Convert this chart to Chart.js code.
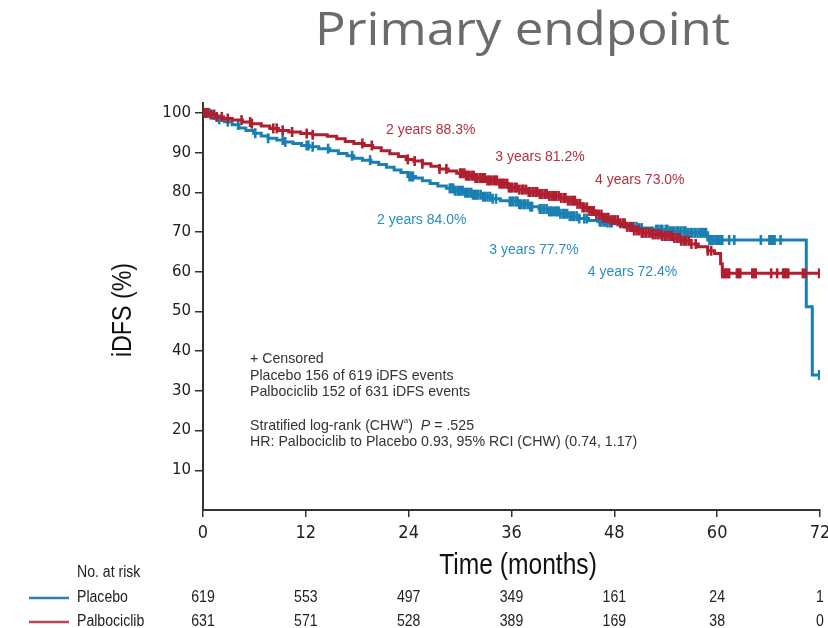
<!DOCTYPE html>
<html>
<head>
<meta charset="utf-8">
<script src="https://cdn.jsdelivr.net/npm/chart.js@4.4.0/dist/chart.umd.min.js"></script>
<style>
  body { margin: 0; background: #fff; }
  canvas { display: block; }
</style>
</head>
<body>
<canvas id="mycanvas" width="828" height="628"></canvas>
<script>
// Kaplan-Meier steps: time in months, iDFS in %
var placeboTime = [0, 0.8, 1.6, 2.5, 3.4, 4.2, 5.0, 5.9, 6.8, 7.6, 8.6, 9.4, 10.5, 11.5, 12.4, 13.5, 14.8, 15.8, 16.8, 17.6,
	18.6, 19.6, 20.5, 21.4, 22.3, 23.1, 23.9, 24.8, 25.6, 26.5, 27.4, 28.4, 29.4, 30.4, 31.4, 32.5, 33.6, 34.7, 35.8, 36.9,
	38.0, 39.2, 40.4, 41.6, 42.8, 43.9, 45.0, 46.1, 47.2, 48.4, 49.6, 50.8, 52.5, 54.5, 56.5, 58.9, 70.4, 71.1, 71.9];
var placeboSurv = [100, 99.5, 98.4, 97.8, 97.0, 96.2, 95.6, 94.9, 94.2, 93.6, 93.2, 92.7, 92.3, 91.8, 91.5, 91.0, 90.5, 89.8, 89.2, 88.6,
	88.1, 87.6, 87.0, 86.3, 85.6, 85.0, 84.0, 83.6, 82.9, 82.2, 81.6, 81.0, 80.4, 79.9, 79.4, 78.9, 78.4, 77.9, 77.7, 77.0,
	76.4, 75.8, 75.2, 74.6, 74.0, 73.4, 72.9, 72.6, 72.4, 71.8, 71.3, 71.0, 70.6, 70.2, 69.8, 68.0, 51.2, 34.0, 34.0];

var palboTime = [0, 0.6, 1.4, 2.4, 3.4, 4.6, 5.6, 6.8, 7.8, 8.8, 10.0, 11.4, 12.8, 14.5, 15.6, 16.6, 17.6, 18.8, 19.8, 20.8,
	21.8, 22.8, 23.7, 24.6, 25.6, 26.6, 27.6, 28.6, 29.6, 30.6, 31.8, 33.0, 34.4, 35.6, 36.8, 38.0, 39.2, 40.4, 41.6, 42.6,
	43.5, 44.3, 45.1, 45.9, 46.7, 47.6, 48.5, 49.3, 50.2, 51.2, 52.4, 53.6, 54.8, 55.8, 56.8, 57.8, 58.9, 59.7, 60.4, 60.6, 72];
var palboSurv = [100, 99.6, 99.0, 98.6, 98.2, 97.7, 97.3, 96.7, 96.1, 95.6, 95.2, 94.8, 94.5, 94.1, 93.5, 92.8, 92.3, 91.8, 91.2, 90.5,
	89.7, 89.0, 88.3, 87.9, 87.2, 86.6, 85.9, 85.4, 84.8, 84.2, 83.6, 83.0, 82.2, 81.2, 80.7, 80.1, 79.6, 79.1, 78.6, 77.9,
	77.1, 76.2, 75.3, 74.4, 73.6, 73.0, 72.2, 71.3, 70.4, 69.8, 69.4, 69.0, 68.5, 67.8, 67.0, 66.3, 65.3, 64.6, 62.0, 59.6, 59.6];

// censored observations (months)
var placeboCensor = [0.3, 0.7, 1.2, 1.9, 2.9, 4.1, 6.1, 7.6, 9.3, 9.6, 12.1, 12.3, 12.8, 14.6, 17.4, 19.5, 24.1, 24.3, 24.5,
	28.8, 29.0, 29.2, 29.4, 29.7, 29.9, 30.1, 30.3, 30.6, 30.8, 31.0, 31.3, 31.5, 31.7, 31.9, 32.1, 32.4, 32.7, 32.9, 33.2,
	33.5, 33.8, 34.2, 35.8, 36.0, 36.2, 36.5, 36.7, 36.9, 37.1, 37.4, 37.6, 37.9, 38.2, 38.4, 39.3, 39.5, 39.8, 40.1, 40.4,
	40.6, 40.8, 41.1, 41.3, 41.5, 41.7, 42.0, 42.2, 42.5, 42.8, 43.1, 43.3, 43.6, 43.9, 44.5, 44.8, 46.3, 46.5, 46.8, 47.0,
	47.2, 47.5, 47.7, 50.0, 50.3, 50.6, 50.9, 51.2, 52.9, 53.1, 53.4, 53.6, 54.0, 54.2, 54.5, 54.7, 55.0, 55.3, 55.5, 55.8,
	56.1, 56.3, 56.6, 56.9, 57.1, 57.4, 57.7, 58.0, 58.2, 58.5, 58.7, 59.1, 59.3, 59.5, 59.8, 60.0, 60.2, 60.4, 60.6, 61.4,
	62.0, 65.1, 66.1, 66.3, 66.5, 66.7, 67.4, 71.9];
var palboCensor = [0.2, 0.5, 0.9, 1.3, 1.6, 2.2, 2.9, 4.5, 5.5, 5.7, 8.2, 8.6, 9.3, 10.4, 12.1, 12.8, 18.6, 19.7, 23.9, 24.7,
	25.6, 27.6, 28.4, 30.0, 30.2, 30.5, 30.7, 30.9, 31.1, 31.4, 31.6, 31.8, 32.0, 32.3, 32.5, 32.7, 32.9, 33.2, 33.4, 33.6,
	33.9, 34.1, 34.3, 34.6, 34.8, 35.0, 35.2, 35.5, 35.7, 35.9, 36.1, 36.4, 36.6, 36.9, 37.2, 37.4, 37.7, 38.0, 38.2, 38.5,
	38.8, 39.0, 39.3, 39.6, 39.9, 40.1, 40.4, 40.7, 41.0, 41.2, 41.5, 41.8, 42.1, 42.3, 42.6, 42.9, 43.2, 43.4, 43.7, 44.0,
	44.3, 44.5, 44.8, 45.1, 45.4, 45.6, 45.9, 46.2, 46.5, 46.7, 47.0, 47.3, 47.6, 47.9, 48.1, 48.4, 48.7, 49.0, 49.2, 49.5,
	49.8, 50.1, 50.3, 50.6, 50.9, 51.2, 51.4, 51.7, 52.0, 52.3, 52.5, 52.8, 53.1, 53.4, 53.6, 53.9, 54.2, 54.5, 54.7, 55.0,
	55.3, 55.6, 55.8, 56.1, 56.4, 56.7, 57.0, 57.5, 58.9, 59.3, 60.6, 60.8, 61.0, 61.2, 61.4, 62.3, 62.5, 62.7, 64.1, 64.3,
	64.5, 66.3, 67.0, 67.7, 67.9, 68.1, 68.3, 70.0, 70.3, 71.9];

var xTicks = [0, 12, 24, 36, 48, 60, 72];
var yTicks = [10, 20, 30, 40, 50, 60, 70, 80, 90, 100];
var placeboRisk = [619, 553, 497, 349, 161, 24, 1];
var palboRisk = [631, 571, 528, 389, 169, 38, 0];

var landmarkYears = [2, 3, 4];
var placeboLandmark = [84.0, 77.7, 72.4];
var palboLandmark = [88.3, 81.2, 73.0];

var blue = '#1a80b2';
var red = '#b01f30';
var sans = "'Liberation Sans', Arial, sans-serif";

function survAt(times, surv, t) {
	var v = surv[0];
	for (var i = 0; i < times.length; i++) {
		if (times[i] <= t) v = surv[i];
	}
	return v;
}

function curve(times, surv) {
	var pts = [];
	for (var i = 0; i < times.length; i++) pts.push({x: times[i], y: surv[i]});
	return pts;
}

function censorPoints(censor, times, surv) {
	var pts = [];
	for (var i = 0; i < censor.length; i++) pts.push({x: censor[i], y: survAt(times, surv, censor[i])});
	return pts;
}

// text squeezed or stretched horizontally by sx
function drawText(ctx, text, x, y, font, sx, align) {
	ctx.save();
	ctx.font = font;
	ctx.translate(x, y);
	ctx.scale(sx, 1);
	ctx.textAlign = align || 'left';
	ctx.fillText(text, 0, 0);
	ctx.restore();
}

// text, titles and the risk table drawn around the plot
var decorations = {
	id: 'decorations',
	afterDraw: function(chart) {
		var ctx = chart.ctx;
		var xs = chart.scales.x, ys = chart.scales.y;
		ctx.save();

		ctx.fillStyle = '#6b6b6b';
		ctx.textBaseline = 'alphabetic';
		ctx.font = "45px 'Open Sans', sans-serif";
		var tw = ctx.measureText('Primary endpoint').width;
		drawText(ctx, 'Primary endpoint', 315, 45, ctx.font, 415 / tw, 'left');

		// axis titles
		ctx.fillStyle = '#111';
		ctx.textBaseline = 'middle';
		drawText(ctx, 'Time (months)', 518, 566, '30px ' + sans, 0.82, 'center');
		ctx.save();
		ctx.translate(124, 310);
		ctx.rotate(-Math.PI / 2);
		drawText(ctx, 'iDFS (%)', 0, 0, '27px ' + sans, 0.86, 'center');
		ctx.restore();

		// landmark estimates
		var palboPos = [[21.35, 95.7], [34.1, 88.9], [45.75, 83.1]];
		var placeboPos = [[20.3, 73.0], [33.4, 65.5], [44.9, 59.9]];
		ctx.font = '14px ' + sans;
		ctx.textAlign = 'left';
		for (var i = 0; i < landmarkYears.length; i++) {
			ctx.fillStyle = '#b3303e';
			ctx.fillText(landmarkYears[i] + ' years ' + palboLandmark[i].toFixed(1) + '%',
				xs.getPixelForValue(palboPos[i][0]), ys.getPixelForValue(palboPos[i][1]));
			ctx.fillStyle = '#2a8dbd';
			ctx.fillText(landmarkYears[i] + ' years ' + placeboLandmark[i].toFixed(1) + '%',
				xs.getPixelForValue(placeboPos[i][0]), ys.getPixelForValue(placeboPos[i][1]));
		}

		// statistics block
		ctx.fillStyle = '#333';
		var f = '14.2px ' + sans;
		ctx.font = f;
		var tx = 250;
		ctx.fillText('+ Censored', tx, 359);
		ctx.fillText('Placebo 156 of 619 iDFS events', tx, 376);
		ctx.fillText('Palbociclib 152 of 631 iDFS events', tx, 392);
		var s = 'Stratified log-rank (CHW';
		ctx.fillText(s, tx, 426);
		var cx = tx + ctx.measureText(s).width;
		ctx.font = '8px ' + sans;
		ctx.fillText('a', cx, 421);
		cx += ctx.measureText('a').width;
		ctx.font = f;
		ctx.fillText(')  ', cx, 426);
		cx += ctx.measureText(')  ').width;
		ctx.font = 'italic ' + f;
		ctx.fillText('P', cx, 426);
		cx += ctx.measureText('P').width;
		ctx.font = f;
		ctx.fillText(' = .525', cx, 426);
		ctx.fillText('HR: Palbociclib to Placebo 0.93, 95% RCI (CHW) (0.74, 1.17)', tx, 442);

		// number at risk
		ctx.fillStyle = '#222';
		var rf = '16px ' + sans;
		drawText(ctx, 'No. at risk', 77, 573, rf, 0.88);
		drawText(ctx, 'Placebo', 77, 598, rf, 0.88);
		drawText(ctx, 'Palbociclib', 77, 622, rf, 0.88);
		ctx.lineWidth = 2.5;
		ctx.strokeStyle = '#2a80b0';
		ctx.beginPath(); ctx.moveTo(29, 598); ctx.lineTo(69, 598); ctx.stroke();
		ctx.strokeStyle = '#b04858';
		ctx.beginPath(); ctx.moveTo(29, 622); ctx.lineTo(69, 622); ctx.stroke();
		for (var j = 0; j < xTicks.length; j++) {
			var px = xs.getPixelForValue(xTicks[j]);
			drawText(ctx, String(placeboRisk[j]), px, 598, rf, 0.88, 'center');
			drawText(ctx, String(palboRisk[j]), px, 622, rf, 0.88, 'center');
		}
		ctx.restore();
	}
};

var ctx = document.getElementById('mycanvas');

var kmChart = new Chart(ctx, {
	type: 'line',
	data: {
		datasets: [
			{
				label: 'Palbociclib censored',
				type: 'scatter',
				data: censorPoints(palboCensor, palboTime, palboSurv),
				pointStyle: 'line',
				rotation: 90,
				pointRadius: 5,
				borderWidth: 2.6,
				borderColor: red,
				backgroundColor: red
			},
			{
				label: 'Palbociclib',
				data: curve(palboTime, palboSurv),
				stepped: true,
				borderColor: red,
				borderWidth: 3,
				pointRadius: 0,
				fill: false
			},
			{
				label: 'Placebo censored',
				type: 'scatter',
				data: censorPoints(placeboCensor, placeboTime, placeboSurv),
				pointStyle: 'line',
				rotation: 90,
				pointRadius: 5,
				borderWidth: 2.6,
				borderColor: blue,
				backgroundColor: blue
			},
			{
				label: 'Placebo',
				data: curve(placeboTime, placeboSurv),
				stepped: true,
				borderColor: blue,
				borderWidth: 3,
				pointRadius: 0,
				fill: false
			}
		]
	},
	options: {
		responsive: false,
		animation: false,
		devicePixelRatio: 1,
		layout: { padding: { top: 103, right: 8, left: 0, bottom: 0 } },
		plugins: {
			legend: { display: false },
			tooltip: { enabled: false }
		},
		scales: {
			x: {
				type: 'linear',
				min: 0,
				max: 72,
				afterBuildTicks: function(scale) {
					scale.ticks = xTicks.map(function(v) { return {value: v}; });
				},
				afterFit: function(scale) {
					scale.height = 118;
					scale.paddingLeft = 0;
					scale.paddingRight = 0;
				},
				ticks: {
					font: { family: "'DejaVu Sans Condensed', 'DejaVu Sans', sans-serif", size: 18 },
					color: '#222',
					padding: 6,
					maxRotation: 0
				},
				grid: { drawOnChartArea: false, tickLength: 7, color: '#333', lineWidth: 1.5 },
				border: { color: '#333', width: 2 }
			},
			y: {
				min: 0,
				max: 102.5,
				afterBuildTicks: function(scale) {
					scale.ticks = yTicks.map(function(v) { return {value: v}; });
				},
				afterFit: function(scale) {
					scale.width = 203;
					scale.paddingTop = 0;
					scale.paddingBottom = 0;
				},
				ticks: {
					font: { family: "'DejaVu Sans', sans-serif", size: 15 },
					color: '#222',
					padding: 4
				},
				grid: { drawOnChartArea: false, tickLength: 8, color: '#333', lineWidth: 1.5 },
				border: { color: '#333', width: 2 }
			}
		}
	},
	plugins: [decorations]
});
</script>
</body>
</html>
